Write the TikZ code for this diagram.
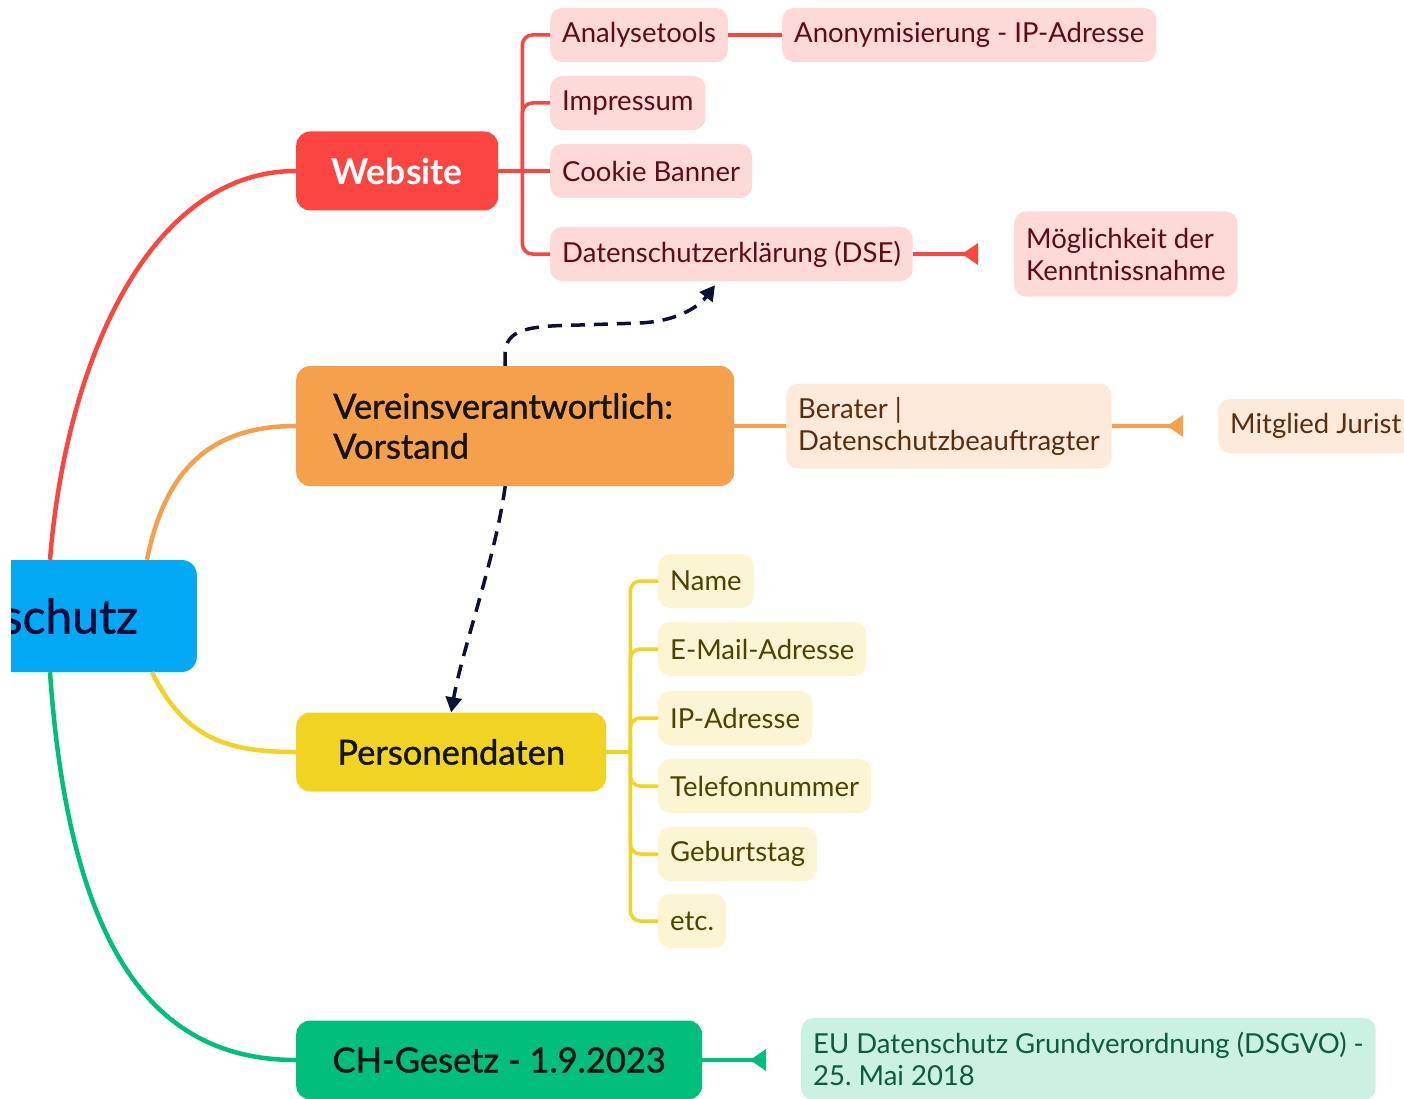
\documentclass[tikz,border=0pt]{standalone}
\usepackage{fontspec}
\setmainfont{Lato}
\newfontfamily\medfont{Lato}[FakeBold=1.2]
\usetikzlibrary{arrows.meta,positioning}
\frenchspacing

\definecolor{coreblue}{HTML}{03A9F4}
\definecolor{corenavy}{HTML}{0A0C3A}
\definecolor{webred}{HTML}{FA4540}
\definecolor{webpink}{HTML}{FDD9D8}
\definecolor{webtext}{HTML}{5E0B14}
\definecolor{orgmain}{HTML}{F5A04B}
\definecolor{orglight}{HTML}{FDEADB}
\definecolor{orgtext}{HTML}{5A2D0C}
\definecolor{yelmain}{HTML}{F1D422}
\definecolor{yellight}{HTML}{FCF5D3}
\definecolor{yeltext}{HTML}{4E4200}
\definecolor{grnmain}{HTML}{00BE7C}
\definecolor{grnlight}{HTML}{CAF1E1}
\definecolor{grntext}{HTML}{0C5C40}
\definecolor{linknavy}{HTML}{0D1035}

\tikzset{
  topic/.style={rounded corners=14pt, anchor=west, minimum height=79pt,
    inner xsep=0pt, text=black!92, font=\medfont\fontsize{34.5}{40}\selectfont},
  leaf/.style={rounded corners=12pt, anchor=west, minimum height=54pt,
    inner xsep=12pt, align=left, font=\fontsize{27.5}{32}\selectfont},
  redleaf/.style={leaf, fill=webpink, text=webtext},
  orgleaf/.style={leaf, fill=orglight, text=orgtext},
  yelleaf/.style={leaf, fill=yellight, text=yeltext},
  grnleaf/.style={leaf, fill=grnlight, text=grntext},
  mainline/.style={line width=4.5pt},
  twig/.style={line width=3.5pt},
  relation/.style={twig, -{Triangle[reversed, length=16pt, width=21pt]}},
  hint/.style={linknavy, line width=3.5pt, dash pattern=on 14pt off 9pt,
    -{Triangle[length=15pt, width=16pt]}},
}

\begin{document}
\begin{tikzpicture}[x=1pt, y=-1pt]
  \useasboundingbox (0,0) rectangle (1404,1099);

  % centre
  \begin{scope}
    \clip (11,540) rectangle (260,700);
    \node[fill=coreblue, rounded corners=15pt, anchor=east, minimum height=112pt,
      inner xsep=59pt, text=corenavy, font=\medfont\fontsize{48}{52}\selectfont]
      (core) at (197,616) {Datenschutz};
  \end{scope}

  % main topics
  \node[topic, fill=webred, minimum width=202pt, text=white,
    font=\bfseries\fontsize{35.5}{40}\selectfont] (web) at (296,171) {Website};
  \node[topic, fill=orgmain, minimum height=120pt, inner xsep=37pt,
    text width=364pt, align=left] (verein) at (296,426)
    {Vereinsverantwortlich:\\Vorstand};
  \node[topic, fill=yelmain, minimum width=310pt] (pers) at (296,752) {Personendaten};
  \node[topic, fill=grnmain, minimum width=406pt] (ch) at (296,1060) {CH-Gesetz - 1.9.2023};

  % website
  \node[redleaf] (ana) at (550,35) {Analysetools};
  \node[redleaf] (anon) at (782,35) {Anonymisierung - IP-Adresse};
  \node[redleaf] (imp) at (550,103) {Impressum};
  \node[redleaf] (cookie) at (550,171) {Cookie Banner};
  \node[redleaf] (dse) at (550,254) {Datenschutzerklärung (DSE)};
  \node[redleaf, minimum height=85pt] (moegl) at (1014,254) {Möglichkeit der\\Kenntnissnahme};

  % verein
  \node[orgleaf, minimum height=85pt] (berater) at (786,426) {Berater |\\Datenschutzbeauftragter};
  \node[orgleaf] (jurist) at (1218,426) {Mitglied Jurist};

  % personendaten
  \node[yelleaf] (name) at (658,581) {Name};
  \node[yelleaf] (mail) at (658,649) {E-Mail-Adresse};
  \node[yelleaf] (ip) at (658,718) {IP-Adresse};
  \node[yelleaf] (tel) at (658,786) {Telefonnummer};
  \node[yelleaf] (geb) at (658,854) {Geburtstag};
  \node[yelleaf] (etc) at (658,921) {etc.};

  % gesetz
  \node[grnleaf, minimum height=82pt] (eu) at (801,1059)
    {EU Datenschutz Grundverordnung (DSGVO) -\\25. Mai 2018};

  % branches from the centre
  \draw[mainline, webred] (50,0 |- core.north) .. controls (66,360) and (150,171) .. (web.west);
  \draw[mainline, orgmain] (147,0 |- core.north) .. controls (165,470) and (210,426) .. (verein.west);
  \draw[mainline, yelmain] (152,0 |- core.south) .. controls (185,740) and (230,752) .. (pers.west);
  \draw[mainline, grnmain] (50,0 |- core.south) .. controls (70,960) and (160,1060) .. (ch.west);

  % website twigs
  \coordinate (rfork) at ([xshift=24pt]web.east);
  \draw[twig, webred] (web.east) -- (cookie.west);
  \foreach \c in {ana, imp, dse}
    \draw[twig, webred, rounded corners=10pt] (rfork) |- (\c.west);
  \draw[twig, webred] (ana.east) -- (anon.west);
  \coordinate (dseend) at (978,254);
  \draw[relation, webred] (dse.east) -- (dseend);

  % verein twigs
  \draw[twig, orgmain] (verein.east) -- (berater.west);
  \coordinate (beraterend) at (1183,426);
  \draw[relation, orgmain] (berater.east) -- (beraterend);

  % personendaten twigs
  \coordinate (yfork) at ([xshift=24pt]pers.east);
  \draw[twig, yelmain] (pers.east) -- (yfork);
  \foreach \c in {name, mail, ip, tel, geb, etc}
    \draw[twig, yelmain, rounded corners=10pt] (yfork) |- (\c.west);

  % gesetz twig
  \coordinate (chend) at (766,1060);
  \draw[relation, grnmain] (ch.east) -- (chend);

  % dashed links
  \draw[hint] ([xshift=-10pt]verein.north) -- (505,355)
    .. controls (505,328) and (530,326) .. (580,325) -- (640,323)
    .. controls (680,321) and (700,305) .. ([xshift=165pt,yshift=-4pt]dse.south west);
  \draw[hint] ([xshift=-10pt]verein.south) .. controls (495,560) and (462,650) .. (pers.north);
\end{tikzpicture}
\end{document}
